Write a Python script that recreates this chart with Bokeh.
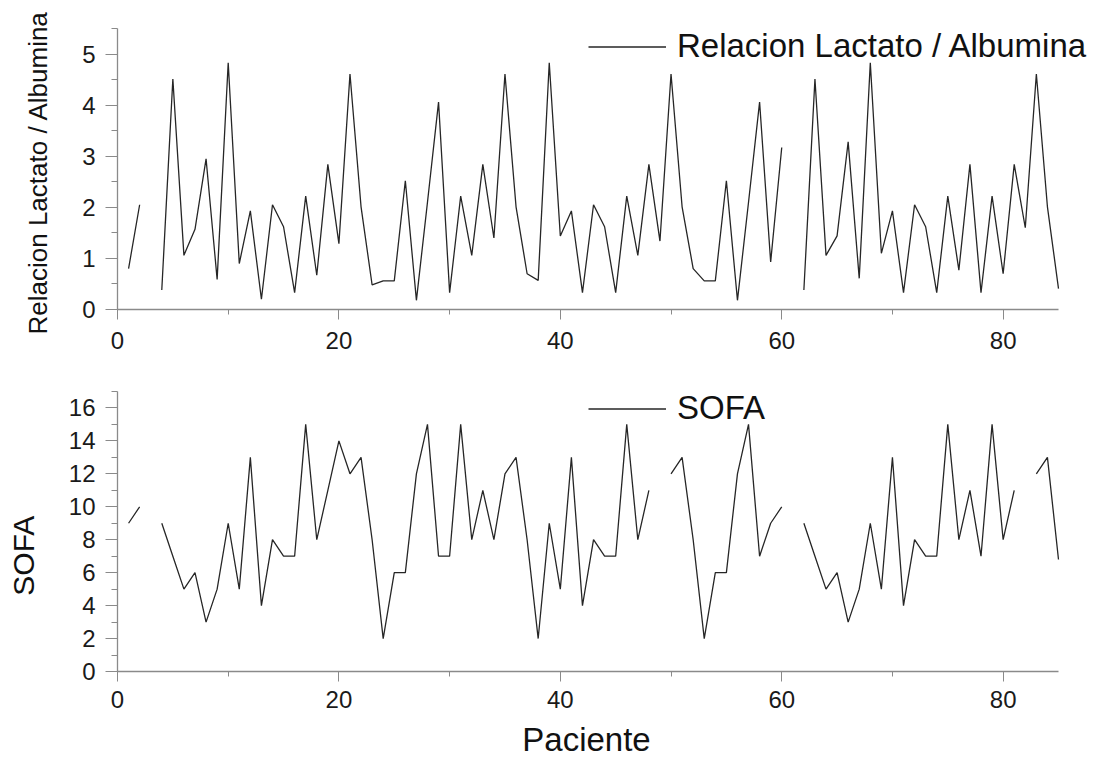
import math
from bokeh.plotting import figure
from bokeh.models import Range1d, SingleIntervalTicker, Legend, LegendItem, ColumnDataSource
from bokeh.layouts import column
from bokeh.embed import file_html
from bokeh.resources import INLINE

nan = float("nan")

pacientes = list(range(1, 86))

relacion_la = [
    0.80, 2.05, nan, 0.38, 4.51, 1.06, 1.57, 2.95, 0.59, 4.83,
    0.90, 1.93, 0.20, 2.05, 1.62, 0.33, 2.22, 0.67, 2.84, 1.29,
    4.61, 2.01, 0.48, 0.56, 0.56, 2.52, 0.18, 2.10, 4.06, 0.33,
    2.22, 1.06, 2.84, 1.40, 4.61, 2.01, 0.70, 0.57, 4.83, 1.44,
    1.93, 0.33, 2.05, 1.62, 0.33, 2.22, 1.06, 2.84, 1.34, 4.61,
    2.01, 0.80, 0.56, 0.56, 2.52, 0.18, 2.10, 4.06, 0.93, 3.17,
    nan, 0.38, 4.51, 1.06, 1.44, 3.28, 0.61, 4.83, 1.10, 1.93,
    0.33, 2.05, 1.62, 0.33, 2.22, 0.77, 2.84, 0.33, 2.22, 0.70,
    2.84, 1.60, 4.61, 2.01, 0.41,
]

sofa = [
    9, 10, nan, 9, 7, 5, 6, 3, 5, 9,
    5, 13, 4, 8, 7, 7, 15, 8, 11, 14,
    12, 13, 8, 2, 6, 6, 12, 15, 7, 7,
    15, 8, 11, 8, 12, 13, 8, 2, 9, 5,
    13, 4, 8, 7, 7, 15, 8, 11, nan, 12,
    13, 8, 2, 6, 6, 12, 15, 7, 9, 10,
    nan, 9, 7, 5, 6, 3, 5, 9, 5, 13,
    4, 8, 7, 7, 15, 8, 11, 7, 15, 8,
    11, nan, 12, 13, 6.8,
]

x_end = 85
y1_end = 5.5
y2_end = 17
FONT = "Liberation Sans"
AXIS_GRAY = "#8a8a8a"
LINE_COLOR = "#262626"
NBSP = "\u00a0"


def style_axes(p, y_interval, y_bounds, x_standoff, y_label, y_label_size):
    p.xaxis.ticker = SingleIntervalTicker(interval=20, num_minor_ticks=2)
    p.yaxis.ticker = SingleIntervalTicker(interval=y_interval, num_minor_ticks=2)
    p.xaxis.bounds = (0, x_end)
    p.yaxis.bounds = y_bounds
    for ax in (p.xaxis[0], p.yaxis[0]):
        ax.axis_line_color = AXIS_GRAY
        ax.axis_line_width = 1.3
        ax.major_tick_line_color = AXIS_GRAY
        ax.minor_tick_line_color = AXIS_GRAY
        ax.major_tick_in = 0
        ax.minor_tick_in = 0
        ax.major_label_text_font = FONT
        ax.major_label_text_font_size = "24px"
        ax.major_label_text_color = "#1a1a1a"
        ax.axis_label_text_font = FONT
        ax.axis_label_text_font_style = "normal"
        ax.axis_label_text_color = "#111111"
    p.xaxis.major_tick_out = 10
    p.xaxis.minor_tick_out = 5
    p.yaxis.major_tick_out = 12
    p.yaxis.minor_tick_out = 6
    p.xaxis.major_label_standoff = x_standoff
    p.yaxis.major_label_standoff = 10
    p.yaxis.axis_label = y_label
    p.yaxis.axis_label_text_font_size = y_label_size
    p.yaxis.axis_label_standoff = 26
    p.xgrid.visible = False
    p.ygrid.visible = False
    p.outline_line_color = None


def add_legend(p, renderer, label, vy):
    leg = Legend(items=[LegendItem(label=label, renderers=[renderer])],
                 location=(471, vy))
    leg.padding = 0
    leg.margin = 0
    leg.border_line_color = None
    leg.background_fill_alpha = 0
    leg.glyph_width = 78
    leg.glyph_height = 37
    leg.label_height = 37
    leg.label_standoff = 11
    leg.label_text_font = FONT
    leg.label_text_font_size = "33px"
    leg.label_text_color = "#111111"
    p.add_layout(leg)


# frames extended to x=1110 so the long legend text is not clipped;
# axis lines stop at x = 85 through their bounds
x_view_end = x_end * (1110 - 117) / (1058 - 117)
# bottom frame extended 10 px upward so the legend text is not clipped
y2_view_end = y2_end * (672 - 381) / (672 - 391)

# Top panel
p1 = figure(width=1117, height=358, output_backend="svg", toolbar_location=None,
            x_range=Range1d(0, x_view_end), y_range=Range1d(0, y1_end),
            min_border_left=117, min_border_right=7, min_border_top=28,
            min_border_bottom=49)
src1 = ColumnDataSource(dict(x=pacientes, y=relacion_la))
r1 = p1.line("x", "y", source=src1, line_color=LINE_COLOR, line_width=1.3)
style_axes(p1, 1, (0, y1_end), 12, "Relacion Lactato / Albumina" + NBSP, "26px")
add_legend(p1, r1, "Relacion Lactato / Albumina", 244)

# Bottom panel
p2 = figure(width=1117, height=402, output_backend="svg", toolbar_location=None,
            x_range=Range1d(0, x_view_end), y_range=Range1d(0, y2_view_end),
            min_border_left=117, min_border_right=7, min_border_top=23,
            min_border_bottom=88)
src2 = ColumnDataSource(dict(x=pacientes, y=sofa))
r2 = p2.line("x", "y", source=src2, line_color=LINE_COLOR, line_width=1.3)
style_axes(p2, 2, (0, y2_end), 9, "SOFA" + NBSP * 7, "30px")
p2.xaxis.axis_label = "Paciente" + NBSP * 6
p2.xaxis.axis_label_text_font_size = "33px"
p2.xaxis.axis_label_standoff = 10
add_legend(p2, r2, "SOFA", 244)

layout = column(p1, p2, spacing=0)
open("out.html", "w").write(file_html(layout, INLINE))
